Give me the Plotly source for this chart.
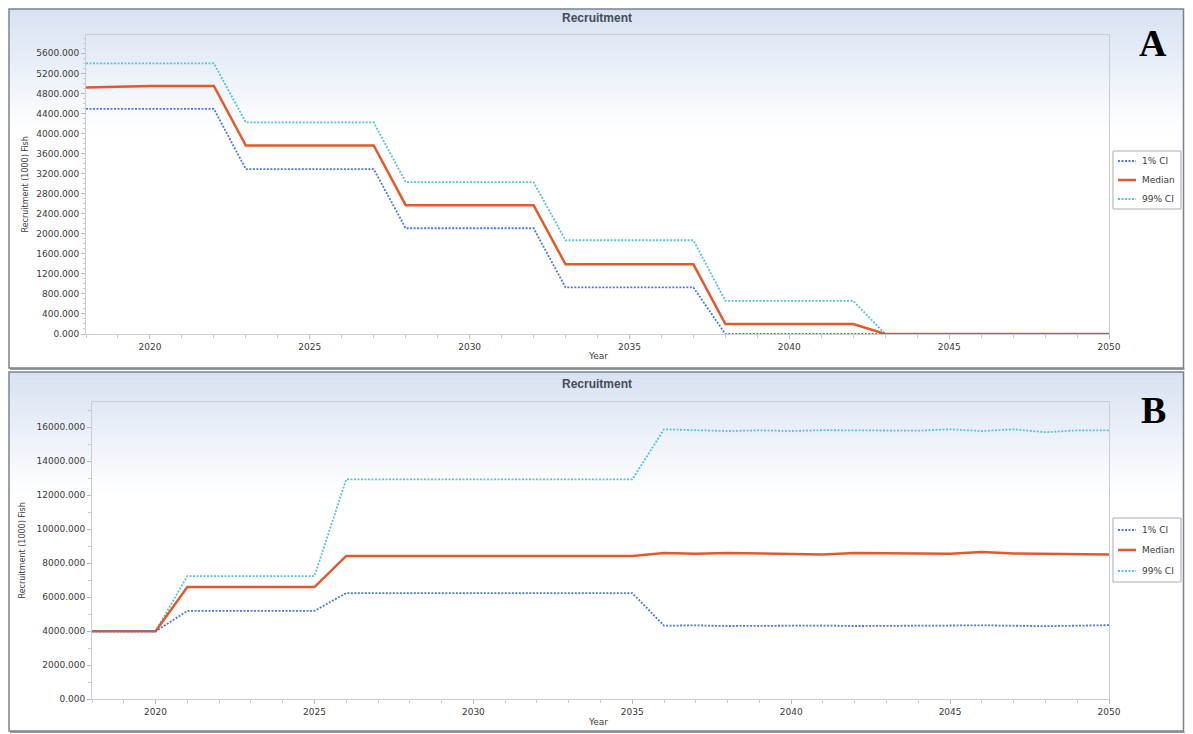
import plotly.graph_objects as go

# Page body has an 8px margin: figure coordinates are shifted accordingly
OX, OY = 8, 8
FW, FH = 1193 - 2 * OX, 734 - OY

years = list(range(2018, 2051))

# Panel A (values in 1000 fish)
a_ci1 = [4490, 4490, 4490, 4490, 4490,
         3290, 3290, 3290, 3290, 3290,
         2110, 2110, 2110, 2110, 2110,
         930, 930, 930, 930, 930,
         0, 0, 0, 0, 0,
         0, 0, 0, 0, 0, 0, 0, 0]
a_median = [4920, 4940, 4950, 4950, 4950,
            3760, 3760, 3760, 3760, 3760,
            2570, 2570, 2570, 2570, 2570,
            1390, 1390, 1390, 1390, 1390,
            200, 200, 200, 200, 200,
            0, 0, 0, 0, 0, 0, 0, 0]
a_ci99 = [5400, 5400, 5400, 5400, 5400,
          4220, 4220, 4220, 4220, 4220,
          3030, 3030, 3030, 3030, 3030,
          1870, 1870, 1870, 1870, 1870,
          660, 660, 660, 660, 660,
          0, 0, 0, 0, 0, 0, 0, 0]

# Panel B
b_ci1 = [4000, 4000, 4000,
         5200, 5200, 5200, 5200, 5200,
         6250, 6250, 6250, 6250, 6250, 6250, 6250, 6250, 6250, 6250,
         4330, 4350, 4310, 4330, 4360, 4340, 4310, 4330, 4330, 4350, 4350, 4330, 4300, 4330, 4360]
b_median = [4000, 4000, 4000,
            6600, 6600, 6600, 6600, 6600,
            8430, 8430, 8430, 8430, 8430, 8430, 8430, 8430, 8430, 8430,
            8600, 8560, 8600, 8580, 8570, 8520, 8600, 8570, 8570, 8560, 8660, 8580, 8570, 8530, 8520]
b_ci99 = [4000, 4000, 4000,
          7250, 7250, 7250, 7250, 7250,
          12940, 12940, 12940, 12940, 12940, 12940, 12940, 12940, 12940, 12940,
          15880, 15820, 15780, 15820, 15780, 15830, 15830, 15830, 15800, 15880, 15780, 15880, 15710, 15820, 15820]

series_names = ["1% CI", "Median", "99% CI"]
colors = {"1% CI": "#4f78dc", "Median": "#e2592c", "99% CI": "#56c4d4"}
DOT = "2px,1.5px"


def px(x):
    return (x - OX) / FW


def py(y):
    return 1 - (y - OY) / FH


def style(name):
    if name == "Median":
        return dict(color=colors[name], width=2.5, dash="solid")
    return dict(color=colors[name], width=1.8, dash=DOT)


fig = go.Figure()

panels = [
    ("x", "y", {"1% CI": a_ci1, "Median": a_median, "99% CI": a_ci99}),
    ("x2", "y2", {"1% CI": b_ci1, "Median": b_median, "99% CI": b_ci99}),
]
for xa, ya, data in panels:
    for name in ["99% CI", "Median", "1% CI"]:
        fig.add_trace(go.Scatter(
            x=years, y=data[name], mode="lines", name=name,
            xaxis=xa, yaxis=ya, showlegend=False,
            line=style(name), hoverinfo="skip",
        ))

tickfont = dict(family="DejaVu Sans", size=9, color="#3a3a3a")
xcommon = dict(range=[2018, 2050], tickmode="linear", tick0=2020, dtick=5,
               ticks="outside", ticklen=4, tickcolor="#b4b9c2",
               showline=True, linecolor="#c9ced6", linewidth=1, mirror=True,
               showgrid=False, zeroline=False, tickfont=tickfont,
               minor=dict(dtick=1, ticks="outside", ticklen=3, tickcolor="#c4c9d1"))
ycommon = dict(tickformat=".3f", ticks="outside", ticklen=4, tickcolor="#b4b9c2",
               showline=True, linecolor="#c9ced6", linewidth=1, mirror=True,
               showgrid=False, zeroline=False, tickfont=tickfont)

fig.update_layout(
    xaxis=dict(domain=[px(86), px(1109)], anchor="y", **xcommon),
    yaxis=dict(domain=[py(334), py(35)], anchor="x", range=[0, 5965], tickmode="linear",
               tick0=0, dtick=400,
               minor=dict(dtick=100, ticks="outside", ticklen=2, tickcolor="#c4c9d1"),
               **ycommon),
    xaxis2=dict(domain=[px(92), px(1109)], anchor="y2", **xcommon),
    yaxis2=dict(domain=[py(699.3), py(401.7)], anchor="x2", range=[0, 17505], tickmode="linear",
                tick0=0, dtick=2000,
                minor=dict(dtick=1000, ticks="outside", ticklen=3, tickcolor="#c4c9d1"),
                **ycommon),
    width=FW, height=FH,
    margin=dict(l=0, r=0, t=0, b=0, autoexpand=False),
    paper_bgcolor="white", plot_bgcolor="rgba(0,0,0,0)",
    showlegend=False,
)

shapes = []
ann = []

RIGHT = 1183.5

# Panel backgrounds: gradient bands + frames
top_col = (216, 226, 242)
for (top, bottom) in [(9, 368), (372, 731)]:
    nb = 30
    span = 125
    for i in range(nb):
        t = i / (nb - 1)
        c = tuple(int(round(top_col[k] + (255 - top_col[k]) * t)) for k in range(3))
        y0 = top + span * i / nb
        y1 = top + span * (i + 1) / nb + 0.5
        shapes.append(dict(type="rect", xref="paper", yref="paper", layer="below",
                           x0=px(9.5), x1=px(RIGHT), y0=py(y1), y1=py(y0),
                           fillcolor="rgb(%d,%d,%d)" % c, line=dict(width=0)))
    shapes.append(dict(type="line", xref="paper", yref="paper", layer="above",
                       x0=px(10), x1=px(RIGHT + 1), y0=py(bottom + 1), y1=py(bottom + 1),
                       line=dict(color="#9a9ea6", width=2)))
    shapes.append(dict(type="rect", xref="paper", yref="paper", layer="above",
                       x0=px(9), x1=px(RIGHT), y0=py(bottom), y1=py(top),
                       fillcolor="rgba(0,0,0,0)", line=dict(color="#7c818a", width=1.5)))

# Legends (one per panel)
for box_top, box_bot, item_ys in [(151, 209, (161, 180, 199)), (518, 582, (530, 550, 571))]:
    shapes.append(dict(type="rect", xref="paper", yref="paper", layer="above",
                       x0=px(1113), x1=px(1181), y0=py(box_bot), y1=py(box_top),
                       fillcolor="white", line=dict(color="#a9adb5", width=1)))
    for name, iy in zip(series_names, item_ys):
        st = style(name)
        shapes.append(dict(type="line", xref="paper", yref="paper", layer="above",
                           x0=px(1118), x1=px(1136), y0=py(iy), y1=py(iy),
                           line=dict(color=st["color"], width=st["width"], dash=st["dash"])))
        ann.append(dict(text=name, x=px(1140), y=py(iy), xref="paper", yref="paper",
                        xanchor="left", yanchor="middle", showarrow=False,
                        font=dict(family="DejaVu Sans", size=9, color="#3c3c3c")))

fig.update_layout(shapes=shapes)

for ty, yt_x, yt_y, xt_y, letter, ly in [(18, 25, 184.5, 356, "A", 43), (384, 22, 550.5, 722, "B", 410)]:
    ann.append(dict(text="<b>Recruitment</b>", x=px(597), y=py(ty), xref="paper", yref="paper",
                    xanchor="center", yanchor="middle", showarrow=False,
                    font=dict(family="Liberation Sans", size=12, color="#454b5a")))
    ann.append(dict(text="Recruitment (1000) Fish", x=px(yt_x), y=py(yt_y), xref="paper", yref="paper",
                    xanchor="center", yanchor="middle", textangle=-90, showarrow=False,
                    font=dict(family="DejaVu Sans", size=8, color="#3c3c3c")))
    ann.append(dict(text="Year", x=px(598), y=py(xt_y), xref="paper", yref="paper",
                    xanchor="center", yanchor="middle", showarrow=False,
                    font=dict(family="DejaVu Sans", size=9, color="#3c3c3c")))
    ann.append(dict(text="<b>%s</b>" % letter, x=px(1153), y=py(ly), xref="paper", yref="paper",
                    xanchor="center", yanchor="middle", showarrow=False,
                    font=dict(family="Liberation Serif", size=38, color="black")))
fig.update_layout(annotations=ann)

fig.write_html("out.html")
